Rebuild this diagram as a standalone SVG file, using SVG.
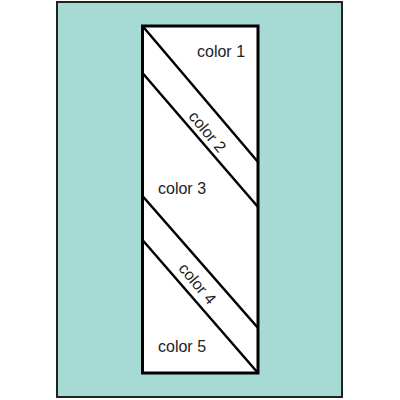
<svg xmlns="http://www.w3.org/2000/svg" width="400" height="400" viewBox="0 0 400 400">
<style>
.lbl{font-family:"Liberation Sans",Arial,sans-serif;font-size:16px;fill:#222}
.cut{stroke:#000;stroke-width:2.5;fill:none}
</style>
<rect width="400" height="400" fill="#fff"/>
<rect x="57" y="2" width="285" height="395" fill="#a6dad4" stroke="#222" stroke-width="2"/>
<g id="strip">
<rect x="142.5" y="26" width="115.5" height="347" fill="#fff" stroke="#000" stroke-width="3"/>
</g>
<g id="connectors">
<line class="cut" x1="142.5" y1="26" x2="258" y2="162"/>
<line class="cut" x1="142.5" y1="73" x2="258" y2="207"/>
<line class="cut" x1="142.5" y1="196" x2="258" y2="328"/>
<line class="cut" x1="142.5" y1="240" x2="258" y2="373"/>
</g>
<g id="color1"><text class="lbl" x="197" y="57">color 1</text></g>
<g id="color2"><text class="lbl" text-anchor="middle" transform="translate(207,132) rotate(50)" y="5">color 2</text></g>
<g id="color3"><text class="lbl" x="158" y="194">color 3</text></g>
<g id="color4"><text class="lbl" text-anchor="middle" transform="translate(197,284) rotate(50)" y="5">color 4</text></g>
<g id="color5"><text class="lbl" x="158" y="352">color 5</text></g>
</svg>
